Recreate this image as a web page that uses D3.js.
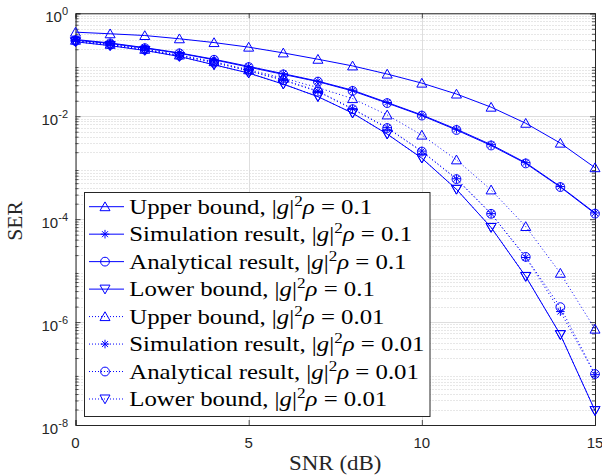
<!DOCTYPE html>
<html><head><meta charset="utf-8">
<script src="https://cdn.jsdelivr.net/npm/d3@7"></script>
<style>
html,body{margin:0;padding:0;background:#fff;}
svg{display:block;}
</style></head>
<body>
<script>
// ---- data ----
const snr = [0,1,2,3,4,5,6,7,8,9,10,11,12,13,14,15];
const upper01  = [0.43,0.40,0.37,0.32,0.27,0.22,0.17,0.128,0.095,0.066,0.044,0.027,0.015,0.0073,0.0030,0.00100];
const sim01    = [0.31,0.265,0.215,0.17,0.128,0.093,0.067,0.048,0.032,0.0185,0.0106,0.0056,0.0028,0.00125,0.00043,0.000132];
const ana01    = [0.30,0.26,0.21,0.167,0.125,0.090,0.065,0.047,0.031,0.018,0.0103,0.0054,0.0027,0.00121,0.00042,0.000128];
const lower01  = [0.28,0.235,0.19,0.145,0.10,0.069,0.042,0.024,0.0115,0.0045,0.00153,0.00038,0.000069,7.7e-6,5.7e-7,1.9e-8];
const upper001 = [0.30,0.25,0.20,0.155,0.115,0.080,0.055,0.036,0.022,0.0106,0.0043,0.00142,0.00037,7.2e-5,8.9e-6,7.3e-7];
const sim001   = [0.295,0.25,0.20,0.152,0.112,0.077,0.051,0.031,0.014,0.006,0.0021,0.00061,0.000128,1.8e-5,1.6e-6,9.5e-8];
const ana001   = [0.29,0.245,0.197,0.15,0.11,0.076,0.050,0.030,0.0137,0.0059,0.00206,0.00060,0.000127,1.85e-5,1.95e-6,9.8e-8];
const lower001 = [0.28,0.235,0.19,0.145,0.10,0.069,0.042,0.024,0.0115,0.0045,0.00153,0.00038,0.000069,7.7e-6,5.7e-7,1.9e-8];
const seriesNames = ["Upper bound, ","Simulation result, ","Analytical result, ","Lower bound, ",
                     "Upper bound, ","Simulation result, ","Analytical result, ","Lower bound, "];
const rhoValues = ["0.1","0.1","0.1","0.1","0.01","0.01","0.01","0.01"];
const xTicks = [0,5,10,15];
const yTickExps = [-8,-6,-4,-2,0];
const xLabel = "SNR (dB)";
const yLabel = "SER";

const seriesData = [upper01, sim01, ana01, lower01, upper001, sim001, ana001, lower001];
const markerKinds = ["up","star","circle","down","up","star","circle","down"];
const dotted = [false,false,false,false,true,true,true,true];

// ---- layout ----
const W = 602, H = 475;
const L = 75.5, R = 595, T = 13.3, B = 425;
const blue = "#0000ff", axisCol = "#262626";

const svg = d3.select("body").append("svg").attr("width", W).attr("height", H);
const x = d3.scaleLinear().domain([0,15]).range([L,R]);
const y = d3.scaleLog().domain([1e-8,1]).range([B,T]);

// grid
const g = svg.append("g");
const minorVals = [];
for (let e=-8; e<0; e++) for (let k=2;k<=9;k++) minorVals.push(k*Math.pow(10,e));
g.selectAll(".mg").data(minorVals).enter().append("line")
  .attr("x1",L).attr("x2",R).attr("y1",d=>Math.round(y(d))+0.5).attr("y2",d=>Math.round(y(d))+0.5)
  .attr("stroke","#cfcfcf").attr("stroke-width",1).attr("stroke-dasharray","1,2");
g.selectAll(".Mg").data(yTickExps.map(e=>Math.pow(10,e))).enter().append("line")
  .attr("x1",L).attr("x2",R).attr("y1",d=>Math.round(y(d))+0.5).attr("y2",d=>Math.round(y(d))+0.5)
  .attr("stroke","#dedede").attr("stroke-width",1);
g.selectAll(".Mgx").data(xTicks).enter().append("line")
  .attr("y1",T).attr("y2",B).attr("x1",d=>Math.round(x(d))+0.5).attr("x2",d=>Math.round(x(d))+0.5)
  .attr("stroke","#dedede").attr("stroke-width",1);

// axes (d3 axes, ticks inward)
const fmtNone = () => "";
const axL = svg.append("g").attr("transform",`translate(${L},0)`)
  .call(d3.axisLeft(y).tickValues(yTickExps.map(e=>Math.pow(10,e))).tickSize(-5).tickFormat(fmtNone));
const axLm = svg.append("g").attr("transform",`translate(${L},0)`)
  .call(d3.axisLeft(y).tickValues(minorVals).tickSize(-3).tickFormat(fmtNone));
const axR = svg.append("g").attr("transform",`translate(${R},0)`)
  .call(d3.axisRight(y).tickValues(yTickExps.map(e=>Math.pow(10,e))).tickSize(-5).tickFormat(fmtNone));
const axRm = svg.append("g").attr("transform",`translate(${R},0)`)
  .call(d3.axisRight(y).tickValues(minorVals).tickSize(-3).tickFormat(fmtNone));
const axB = svg.append("g").attr("transform",`translate(0,${B})`)
  .call(d3.axisBottom(x).tickValues(xTicks).tickSize(-5).tickFormat(fmtNone));
const axT = svg.append("g").attr("transform",`translate(0,${T})`)
  .call(d3.axisTop(x).tickValues(xTicks).tickSize(-5).tickFormat(fmtNone));
[axL,axLm,axR,axRm,axB,axT].forEach(a=>{
  a.selectAll("path").attr("stroke",axisCol).attr("stroke-width",1);
  a.selectAll("line").attr("stroke",axisCol).attr("stroke-width",0.8);
});
axLm.select("path").remove(); axRm.select("path").remove();

// tick labels
const tickFont = "'Liberation Sans', Arial, sans-serif";
xTicks.forEach(t=>{
  svg.append("text").attr("x",x(t)).attr("y",448).attr("text-anchor","middle")
    .attr("font-family",tickFont).attr("font-size",15).attr("fill",axisCol).text(t);
});
yTickExps.forEach(e=>{
  const t = svg.append("text").attr("x",68).attr("y",y(Math.pow(10,e))+9).attr("text-anchor","end")
    .attr("font-family",tickFont).attr("font-size",15).attr("fill",axisCol);
  t.append("tspan").text("10");
  t.append("tspan").attr("dy",-7).attr("font-size",11).text(String(e));
});

// axis labels
const serif = "'Liberation Serif','Times New Roman',serif";
const xl = svg.append("text").attr("font-family",serif).attr("font-size",20.5).attr("fill",axisCol)
  .attr("text-anchor","middle").text(xLabel);
xl.attr("transform",`translate(${(L+R)/2},470) scale(1.12,1)`);
svg.append("text").attr("font-family",serif).attr("font-size",20.5).attr("fill",axisCol)
  .attr("text-anchor","middle").attr("transform",`translate(22,221) rotate(-90) scale(1.05,1)`).text(yLabel);

// markers
function markerPath(kind){
  if (kind==="up") return "M0,-4.8L5,4L-5,4Z";
  if (kind==="down") return "M0,4.8L5,-4L-5,-4Z";
  const a=4.3, b=3.0;
  return `M0,${-a}L0,${a}M${-a},0L${a},0M${-b},${-b}L${b},${b}M${-b},${b}L${b},${-b}`;
}
function drawMarker(sel, kind){
  if (kind==="circle") {
    sel.append("circle").attr("r",4.4).attr("fill","none").attr("stroke",blue).attr("stroke-width",1);
  } else {
    sel.append("path").attr("d",markerPath(kind)).attr("fill","none").attr("stroke",blue).attr("stroke-width",1);
  }
}

// series
const line = d3.line().x((d,i)=>x(snr[i])).y(d=>y(d));
seriesData.forEach((arr,si)=>{
  svg.append("path").datum(arr).attr("d",line).attr("fill","none").attr("stroke",blue)
    .attr("stroke-width",1).attr("stroke-dasharray",dotted[si]?"1,2.5":null);
  const mg = svg.append("g");
  arr.forEach((v,i)=>{
    const m = mg.append("g").attr("transform",`translate(${x(snr[i])},${y(v)})`);
    drawMarker(m, markerKinds[si]);
  });
});

// legend
const lg = svg.append("g");
lg.append("rect").attr("x",84.5).attr("y",192.5).attr("width",345.5).attr("height",224)
  .attr("fill","#fff").attr("stroke",axisCol).attr("stroke-width",1);
const rowY0 = 206.7, rowDY = 27.47;
let scaleF = null;
seriesNames.forEach((nm,i)=>{
  const yy = rowY0 + i*rowDY;
  lg.append("line").attr("x1",89).attr("x2",124).attr("y1",yy).attr("y2",yy)
    .attr("stroke",blue).attr("stroke-width",1).attr("stroke-dasharray",dotted[i]?"1,2":null);
  const m = lg.append("g").attr("transform",`translate(105,${yy})`);
  drawMarker(m, markerKinds[i]);
  const t = lg.append("text").attr("font-family",serif).attr("font-size",21).attr("fill","#000");
  t.append("tspan").text(nm + "|");
  t.append("tspan").attr("font-style","italic").text("g");
  t.append("tspan").text("|");
  t.append("tspan").attr("dy",-8).attr("font-size",14.5).text("2");
  t.append("tspan").attr("dy",8).attr("font-style","italic").text("\u03C1");
  t.append("tspan").text(" = " + rhoValues[i]);
  if (scaleF===null){
    const w = t.node().getComputedTextLength();
    scaleF = 243 / w;
  }
  t.attr("transform",`translate(129.3,${yy+7}) scale(${scaleF},1)`);
});
</script>
</body></html>
